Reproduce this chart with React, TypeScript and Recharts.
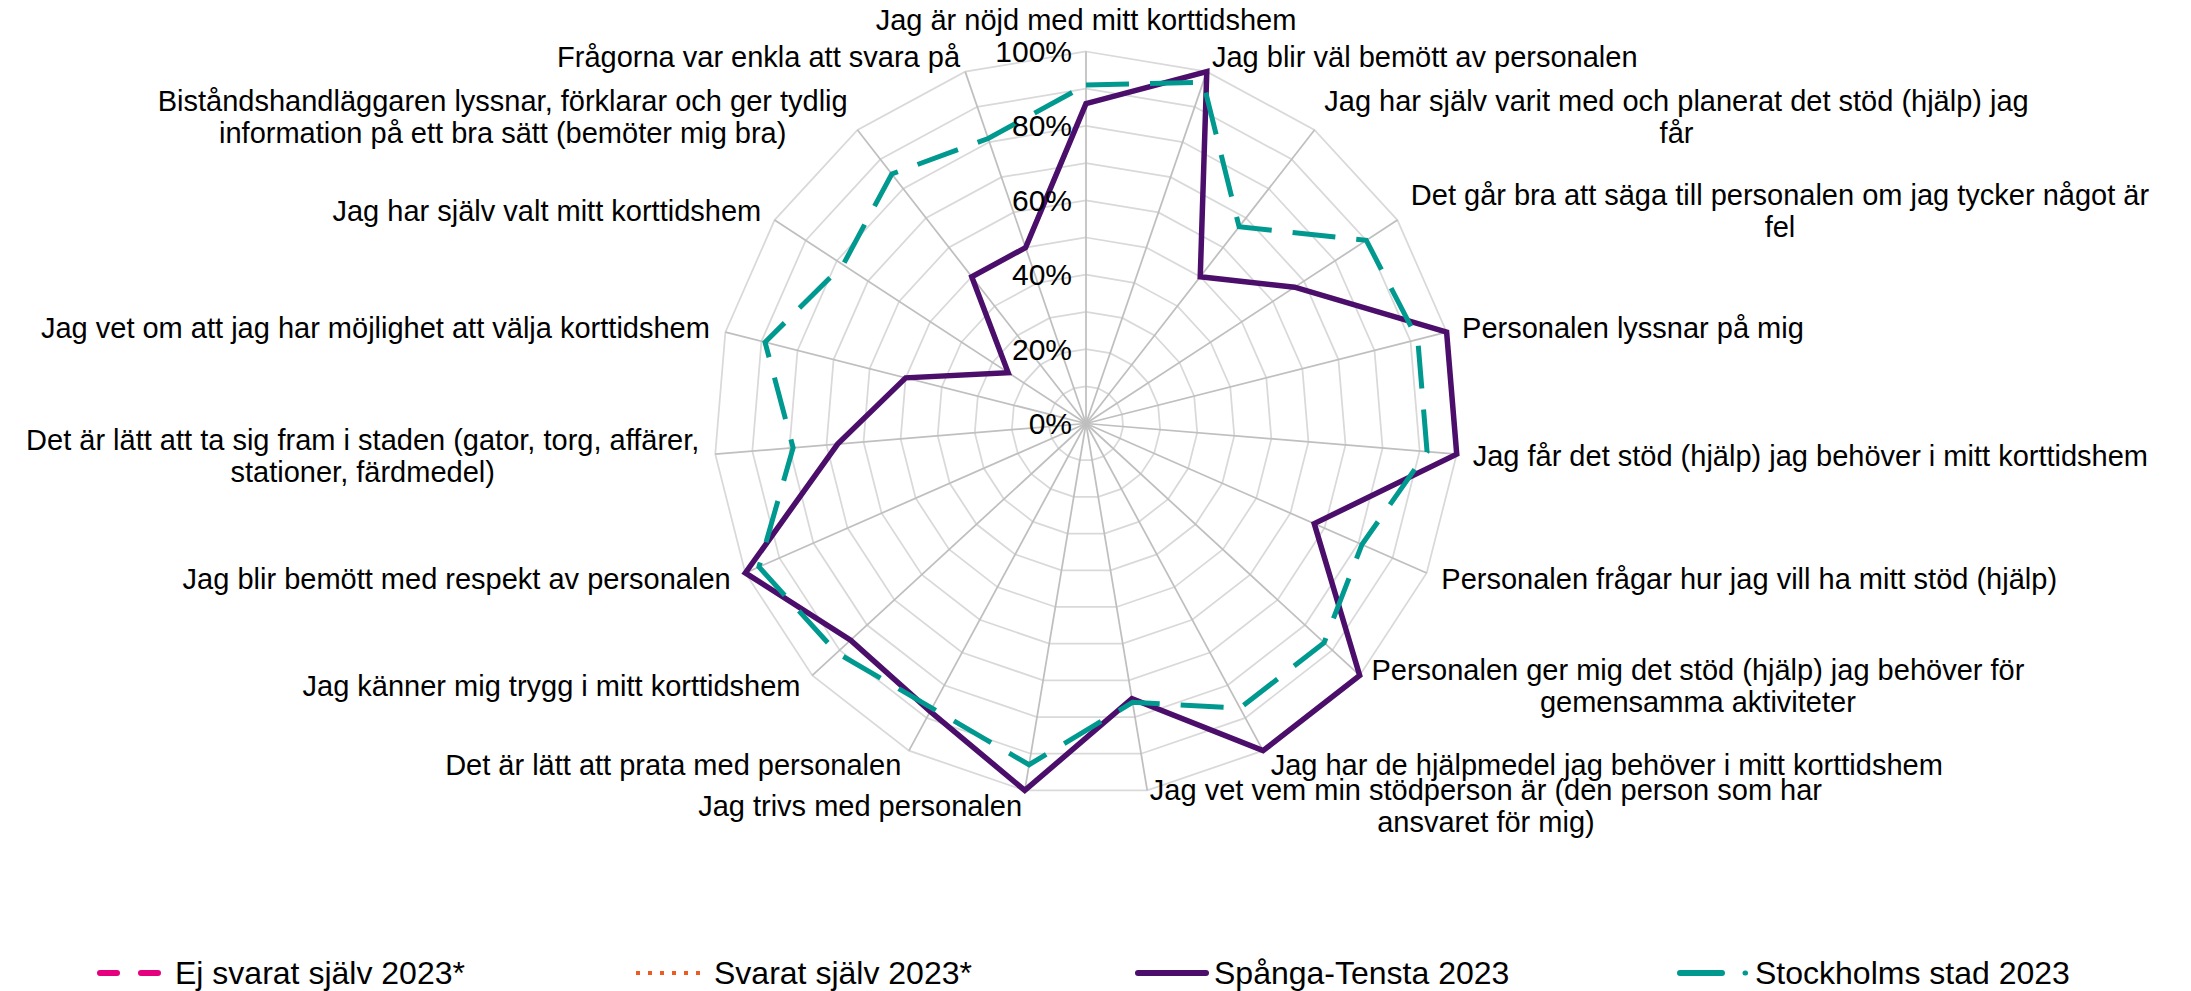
import React from 'react';
import { RadarChart, Radar, PolarGrid, PolarAngleAxis, PolarRadiusAxis, Legend } from 'recharts';

// ---------- data ----------
const CATEGORY_LINES: string[][] = [
  ['Jag är nöjd med mitt korttidshem'],
  ['Jag blir väl bemött av personalen'],
  ['Jag har själv varit med och planerat det stöd (hjälp) jag', 'får'],
  ['Det går bra att säga till personalen om jag tycker något är', 'fel'],
  ['Personalen lyssnar på mig'],
  ['Jag får det stöd (hjälp) jag behöver i mitt korttidshem'],
  ['Personalen frågar hur jag vill ha mitt stöd (hjälp)'],
  ['Personalen ger mig det stöd (hjälp) jag behöver för', 'gemensamma aktiviteter'],
  ['Jag har de hjälpmedel jag behöver i mitt korttidshem'],
  ['Jag vet vem min stödperson är (den person som har', 'ansvaret för mig)'],
  ['Jag trivs med personalen'],
  ['Det är lätt att prata med personalen'],
  ['Jag känner mig trygg i mitt korttidshem'],
  ['Jag blir bemött med respekt av personalen'],
  ['Det är lätt att ta sig fram i staden (gator, torg, affärer,', 'stationer, färdmedel)'],
  ['Jag vet om att jag har möjlighet att välja korttidshem'],
  ['Jag har själv valt mitt korttidshem'],
  ['Biståndshandläggaren lyssnar, förklarar och ger tydlig', 'information på ett bra sätt (bemöter mig bra)'],
  ['Frågorna var enkla att svara på'],
];
const CATEGORIES = CATEGORY_LINES.map((l) => l.join(' '));

const SPANGA_TENSTA_2023 = [86, 100, 50, 67, 100, 100, 67, 100, 100, 75, 100, 88, 86, 100, 67, 50, 25, 50, 50];
const STOCKHOLMS_STAD_2023 = [91, 97, 67, 90, 92, 92, 81, 87, 87, 76, 93, 87, 91, 96, 79, 89, 78, 85, 81];

const RADIUS_DOMAIN = [0, 100];
const RADIUS_TICK_COUNT = 11; // grid every 10 %, labels every 20 %
const LABELLED_STEP = 20;

const LEGEND_NAMES = ['Ej svarat själv 2023*', 'Svarat själv 2023*', 'Spånga-Tensta 2023', 'Stockholms stad 2023'];

const data = CATEGORIES.map((c, i) => ({
  category: c,
  spanga: SPANGA_TENSTA_2023[i],
  stockholm: STOCKHOLMS_STAD_2023[i],
}));

// ---------- styling / layout ----------
const W = 2191;
const H = 991;
const CX = 1086;
const CY = 423.5;
const R = 372;
const FONT = '"Liberation Sans", Arial, sans-serif';
const LABEL_SIZE = 29;
const LINE_H = 32;
const LABEL_GAP = 16;
const PCT_SIZE = 30;
const PCT_GAP = 14;
const LEGEND_SIZE = 32;
const COLORS = ['#E5007D', '#EE5A24', '#4B0F6B', '#00998F'];
const LEGEND_X = [97, 636, 1136, 1677];

let measureCtx: CanvasRenderingContext2D | null = null;
function measure(text: string, size: number): number {
  if (!measureCtx) measureCtx = document.createElement('canvas').getContext('2d');
  if (!measureCtx) return text.length * size * 0.5;
  measureCtx.font = `${size}px "Liberation Sans", Arial, sans-serif`;
  return measureCtx.measureText(text).width;
}

function AngleTick(props: any) {
  const { x, y, payload } = props;
  let idx = CATEGORIES.indexOf(payload?.value);
  if (idx < 0) idx = props.index ?? 0;
  const lines = CATEGORY_LINES[idx];
  const dx = x - CX;
  const dy = y - CY;
  const len = Math.hypot(dx, dy) || 1;
  const ux = dx / len;
  const uy = dy / len;
  const px = CX + ux * (R + LABEL_GAP);
  const py = CY + uy * (R + LABEL_GAP);
  const h = lines.length * LINE_H;
  const boxW = Math.max(...lines.map((l) => measure(l, LABEL_SIZE)));
  let centerX = px;
  let centerY = py;
  if (ux > 0.05) centerX = px + boxW / 2;
  else if (ux < -0.05) centerX = px - boxW / 2;
  else centerY = py + Math.sign(uy) * (h / 2);
  const top = centerY - h / 2;
  return (
    <g>
      {lines.map((l, i) => (
        <text
          key={i}
          x={centerX}
          y={top + LINE_H * (i + 0.5)}
          textAnchor="middle"
          dominantBaseline="central"
          fontFamily={FONT}
          fontSize={LABEL_SIZE}
          fill="#000"
        >
          {l}
        </text>
      ))}
    </g>
  );
}

function RadiusTick(props: any) {
  const { x, y, payload } = props;
  const v = payload?.value;
  if (v == null || v % LABELLED_STEP !== 0) return <g />;
  return (
    <text
      x={x - PCT_GAP}
      y={y}
      textAnchor="end"
      dominantBaseline="central"
      fontFamily={FONT}
      fontSize={PCT_SIZE}
      fill="#000"
    >
      {`${v}%`}
    </text>
  );
}

function LegendMarker({ i, x0, y }: { i: number; x0: number; y: number }) {
  const c = COLORS[i];
  if (i === 0)
    return <line x1={x0 + 3} x2={x0 + 65} y1={y} y2={y} stroke={c} strokeWidth={6} strokeLinecap="round" strokeDasharray="17 24" />;
  if (i === 1)
    return <line x1={x0} x2={x0 + 70} y1={y} y2={y} stroke={c} strokeWidth={4} strokeDasharray="4 8" />;
  if (i === 2)
    return <line x1={x0 + 2} x2={x0 + 70} y1={y} y2={y} stroke={c} strokeWidth={6} strokeLinecap="round" />;
  return (
    <g>
      <line x1={x0 + 3} x2={x0 + 45} y1={y} y2={y} stroke={c} strokeWidth={6} strokeLinecap="round" />
      <line x1={x0 + 68} x2={x0 + 68.5} y1={y} y2={y} stroke={c} strokeWidth={5} strokeLinecap="round" />
    </g>
  );
}

function LegendContent() {
  const y = 30;
  return (
    <svg width={W} height={60} style={{ display: 'block' }}>
      {LEGEND_NAMES.map((name, i) => (
        <g key={name}>
          <LegendMarker i={i} x0={LEGEND_X[i]} y={y} />
          <text
            x={LEGEND_X[i] + 78}
            y={y}
            dominantBaseline="central"
            fontFamily={FONT}
            fontSize={LEGEND_SIZE}
            fill="#000"
          >
            {name}
          </text>
        </g>
      ))}
    </svg>
  );
}

export default function App() {
  return (
    <div style={{ position: 'absolute', left: 0, top: 0, width: W, height: H, background: '#fff' }}>
      <RadarChart
        width={W}
        height={H}
        data={data}
        cx={CX}
        cy={CY}
        outerRadius={R}
        startAngle={90}
        endAngle={-270}
        margin={{ top: 0, right: 0, bottom: 0, left: 0 }}
      >
        <PolarGrid gridType="polygon" radialLines={false} stroke="#D9D9D9" strokeWidth={1.75} />
        <PolarGrid gridType="polygon" polarRadius={[]} stroke="#BFBFBF" strokeWidth={1.75} />
        <PolarAngleAxis dataKey="category" tick={AngleTick} tickLine={false} axisLine={false} />
        <PolarRadiusAxis
          angle={90}
          domain={RADIUS_DOMAIN}
          tickCount={RADIUS_TICK_COUNT}
          axisLine={false}
          tickLine={false}
          tick={RadiusTick}
        />
        <Radar
          name={LEGEND_NAMES[2]}
          dataKey="spanga"
          stroke={COLORS[2]}
          strokeWidth={5.5}
          fill="none"
          fillOpacity={0}
          isAnimationActive={false}
          dot={false}
        />
        <Radar
          name={LEGEND_NAMES[3]}
          dataKey="stockholm"
          stroke={COLORS[3]}
          strokeWidth={5}
          strokeDasharray="43 21"
          fill="none"
          fillOpacity={0}
          isAnimationActive={false}
          dot={false}
        />
        <Legend
          content={LegendContent}
          wrapperStyle={{ position: 'absolute', left: 0, top: 943, bottom: 'auto', width: W, height: 60 }}
        />
      </RadarChart>
    </div>
  );
}
